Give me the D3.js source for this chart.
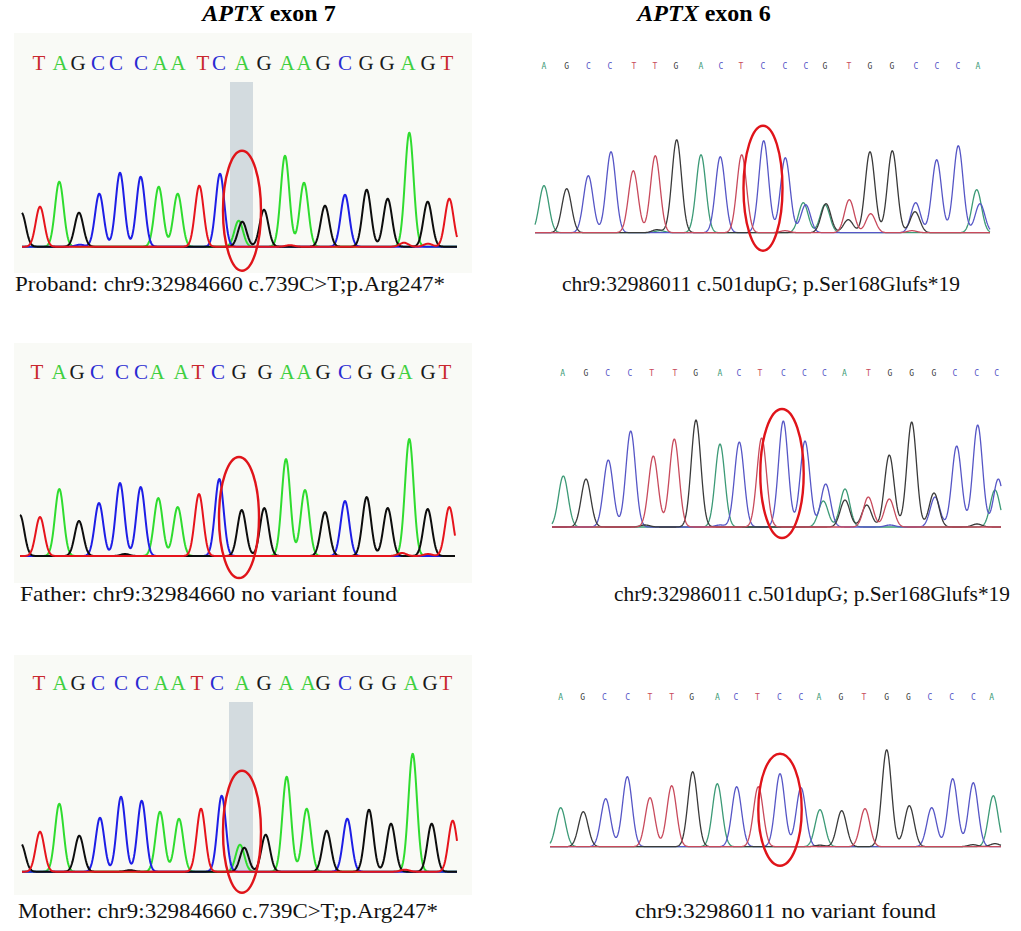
<!DOCTYPE html>
<html>
<head>
<meta charset="utf-8">
<title>APTX Sanger sequencing</title>
<style>
  body { margin: 0; background: #fff; }
  svg { display: block; font-family: "Liberation Serif", "Times New Roman", serif; }
</style>
</head>
<body>
<div id="chart"></div>
<script src="https://d3js.org/d3.v7.min.js"></script>
<script>

// peaks: [base, scan position, signal height]
const probandExon7Peaks = [
  ["G",21.5,34],["T",40,40],["A",59.3,65],["G",79,34],["C",99.3,53],["C",120,74],["C",140.7,70],
  ["A",158.7,60],["A",177.7,53],["T",199.3,61],["C",220,73],["A",238.7,26],["G",242.3,25],
  ["G",264,37],["A",285,91],["A",304,64],["G",325,41],["C",345,52],["G",366.7,57],["G",387.7,48],
  ["A",409.3,114],["G",427.7,45],["T",449.3,48],
  ["C",80,2],["T",404,4],["T",428,3],["T",290,1.5]
];
const fatherExon7Peaks = [
  ["G",20,41],["T",40,39],["A",59.3,67],["G",79,35],["C",99,53],["C",120,73],["C",140.7,69],
  ["A",158.3,58],["A",177.7,49],["T",199,62],["C",219.3,77],["G",241.7,46],["G",264.3,48],
  ["A",286,97],["A",305,66],["G",325,44],["C",345,55],["G",366.7,59],["G",387.7,48],
  ["A",409.3,117],["G",427.7,47],["T",449.3,49],
  ["G",125,2],["T",402,3],["T",428,2]
];
const motherExon7Peaks = [
  ["G",21,28],["T",40,40],["A",59.3,68],["G",79.3,36],["C",100,54],["C",121,75],["C",141.7,71],
  ["A",160,60],["A",179,53],["T",201,63],["C",221.7,76],["A",240,27],["G",244.3,24],
  ["G",265.7,37],["A",286.7,95],["A",306.7,63],["G",326.7,41],["C",347.3,53],["G",369,62],
  ["G",391,48],["A",412.7,118],["G",431.7,48],["T",452.7,51],
  ["T",405,2],["G",130,1.5]
];
const probandExon6Peaks = [
  ["A",24,47],["G",46.7,44],["C",68.3,57],["C",91,81],["T",113.3,62],["T",135.3,77],["G",156.7,93],
  ["A",181,78],["C",200.3,76],["T",221.7,78],["C",243.7,92],["C",265.3,75],["A",283.3,30],
  ["C",285.7,28],["G",306,29],["A",305,28],["T",329.3,33],["G",328.3,13],["G",350,81],
  ["T",350.7,19],["G",372.3,82],["C",395.7,30],["G",395,21],["C",416.7,73],["C",438.3,87],
  ["A",456.7,43],["C",460,29],
  ["G",137,3],["A",140,2],["T",265,2],["T",392,2]
];
const fatherExon6Peaks = [
  ["A",43.3,51],["G",66,48],["C",88.3,67],["C",110.7,96],["T",133.3,71],["T",154.3,88],["G",176,107],
  ["A",200,83],["C",219.3,85],["T",241.7,89],["C",263.3,106],["C",285,86],["C",305.7,43],
  ["A",303.3,26],["A",325,38],["G",325,27],["T",348.3,30],["G",346.7,22],["T",369.3,28],
  ["G",369.3,72],["G",391.7,105],["G",414,34],["C",415,30],["C",436.7,81],["C",457.7,102],
  ["C",478.3,48],["A",475,37],
  ["G",125,2],["C",200,2],["C",370,2],["G",457,3]
];
const motherExon6Peaks = [
  ["A",40.7,39],["G",63.3,35],["C",85.7,48],["C",107.3,70],["T",130,49],["T",151.7,61],["G",172.7,75],
  ["A",197.3,63],["C",216.7,60],["T",238.3,60],["C",260,73],["C",281,59],["A",300,37],
  ["G",321.7,36],["T",345,38],["G",366.7,97],["G",389.3,41],["C",411.7,39],["C",432.7,68],
  ["C",453.3,64],["A",473.3,51],
  ["G",300,1.5],["G",453,2],["G",475,3]
];

// base calls and their scan positions
const probandExon7Bases = "TAGCCCAATCAGAAGCGGAGT".split("");
const probandExon7Calls = [39,60,78,98,116,141,160,178,203,219,242,264,287,304,323,345,366,387,408,428,447];
const fatherExon7Bases = "TAGCCCAATCGGAAGCGGAGT".split("");
const fatherExon7Calls = [37,59,77,97,122,141,157,181,198,218,239,265,287,304,323,345,365,388,405,428,445];
const motherExon7Bases = "TAGCCCAATCAGAAGCGGAGT".split("");
const motherExon7Calls = [39,60,78,98,121,142,161,178,197,217,242,264,286,308,323,345,366,389,411,430,446];
const probandExon6Bases = "AGCCTTGACTCCCGTGGCCCA".split("");
const probandExon6Calls = [24,46.7,68.3,90,114,135,156,181,201,221,243,265,286,305,329,350,372,396,417,438,458];
const fatherExon6Bases = "AGCCTTGACTCCCATGGGCCC".split("");
const fatherExon6Calls = [42.7,66,87.7,110,131.7,155,175.7,200,219,240,263.3,284.3,304.3,324.3,348.3,370,391.7,414,435,456.7,476.7];
const motherExon6Bases = "AGCCTTGACTCCAGTGGCCCA".split("");
const motherExon6Calls = [40.7,62.7,84.3,107.7,130,151.7,171.7,197.3,216,237.3,259.3,281,299,321,344,366.7,388.3,410,431.7,453.3,471.7];

// variant position (scan) marked by the ellipse
const variantScan = [242, 239, 242, 243, 262, 260];

const captions = [
  "Proband: chr9:32984660 c.739C>T;p.Arg247*",
  "Father: chr9:32984660 no variant found",
  "Mother: chr9:32984660 c.739C>T;p.Arg247*",
  "chr9:32986011 c.501dupG; p.Ser168Glufs*19",
  "chr9:32986011 c.501dupG; p.Ser168Glufs*19",
  "chr9:32986011 no variant found"
];

const width = 1021, height = 931;

const svg = d3.select("#chart")
  .append("svg")
    .attr("width", width)
    .attr("height", height);

// colours: bright for the exon 7 traces, muted for the exon 6 traces
const brightColor = d3.scaleOrdinal().domain(["A","C","G","T"]).range(["#2fdc2f","#1e1ee6","#0d0d0d","#e6141c"]);
const brightLetter = d3.scaleOrdinal().domain(["A","C","G","T"]).range(["#3fcf3f","#2a2ad2","#1a1a1a","#c9282e"]);
const mutedColor = d3.scaleOrdinal().domain(["A","C","G","T"]).range(["#3c9a76","#5656c6","#3a3a3a","#c84a5c"]);

// panel layout (cap = x, baseline y, text width)
const panels = [
  {peaks: probandExon7Peaks, bases: probandExon7Bases, calls: probandExon7Calls, ox: 0,   base: 246.7, letterY: 70,  big: true,
   span: [22,457], bg: [14,33,458,240], shade: [230,253,82], ell: [96,24,19], cap: [15,291,430]},
  {peaks: fatherExon7Peaks, bases: fatherExon7Bases, calls: fatherExon7Calls, ox: 0,   base: 556,   letterY: 379, big: true,
   span: [20,455], bg: [14,343,458,240], shade: null, ell: [99,22,20], cap: [20,601,377]},
  {peaks: motherExon7Peaks, bases: motherExon7Bases, calls: motherExon7Calls, ox: 0,   base: 871.7, letterY: 690, big: true,
   span: [22,457], bg: [14,655,458,240], shade: [229,253,702], ell: [101,21,19], cap: [18,918,420]},
  {peaks: probandExon6Peaks, bases: probandExon6Bases, calls: probandExon6Calls, ox: 520, base: 232.7, letterY: 69,  big: false,
   span: [15,470], bg: null, shade: null, ell: [107,18,19.5], cap: [562,291,398]},
  {peaks: fatherExon6Peaks, bases: fatherExon6Bases, calls: fatherExon6Calls, ox: 520, base: 527,   letterY: 376, big: false,
   span: [32,481], bg: null, shade: null, ell: [118,11,21.7], cap: [614,601,396]},
  {peaks: motherExon6Peaks, bases: motherExon6Bases, calls: motherExon6Calls, ox: 520, base: 846.7, letterY: 700, big: false,
   span: [30,481], bg: null, shade: null, ell: [93,19,21.7], cap: [635,918,301]}
];

panels.forEach((p, i) => {
  const g = svg.append("g");
  const x = d3.scaleLinear().domain([0, 470]).range([p.ox, p.ox + 470]);
  const y = d3.scaleLinear().domain([0, 130]).range([p.base, p.base - 130]);
  const sigma = p.big ? 4.3 : 4.8;

  if (p.bg) {
    g.append("rect")
      .attr("x", p.bg[0]).attr("y", p.bg[1])
      .attr("width", p.bg[2]).attr("height", p.bg[3])
      .attr("fill", "#f9faf6");
  }

  if (p.shade) {
    g.append("rect")
      .attr("x", x(p.shade[0]))
      .attr("y", p.shade[2])
      .attr("width", x(p.shade[1]) - x(p.shade[0]))
      .attr("height", y(0) - p.shade[2])
      .attr("fill", "#d3dbdf");
  }

  // called bases
  g.selectAll("text.base")
    .data(p.bases)
    .join("text")
      .attr("class", "base")
      .attr("x", (d, j) => x(p.calls[j]))
      .attr("y", p.letterY)
      .attr("text-anchor", "middle")
      .style("font-family", p.big ? "'Liberation Serif', serif" : "'DejaVu Sans Mono', monospace")
      .style("font-size", p.big ? "21px" : "8px")
      .attr("fill", d => p.big ? brightLetter(d) : mutedColor(d))
      .text(d => d);

  // traces: each channel is the sum of its peaks
  const scans = d3.range(p.span[0], p.span[1] + 0.01, 0.5);
  const order = ["A","C","G","T"];
  order.forEach(ch => {
    const mine = p.peaks.filter(d => d[0] === ch);
    const pts = scans.map(s => [s, d3.sum(mine, d => d[2] * Math.exp(-((s - d[1]) ** 2) / (2 * sigma * sigma)))]);
    g.append("path")
      .datum(pts)
      .attr("fill", "none")
      .attr("stroke", p.big ? brightColor(ch) : mutedColor(ch))
      .attr("stroke-width", p.big ? 2 : 1.3)
      .attr("stroke-linejoin", "round")
      .attr("d", d3.line().x(d => x(d[0])).y(d => y(d[1])));
  });

  // red ellipse round the variant
  const top = p.base - p.ell[0], bottom = p.base + p.ell[1];
  g.append("ellipse")
    .attr("cx", x(variantScan[i]))
    .attr("cy", (top + bottom) / 2)
    .attr("rx", p.ell[2])
    .attr("ry", (bottom - top) / 2)
    .attr("fill", "none")
    .attr("stroke", "#e0141a")
    .attr("stroke-width", 2.4);

  g.append("text")
    .attr("x", p.cap[0])
    .attr("y", p.cap[1])
    .attr("textLength", p.cap[2])
    .attr("lengthAdjust", "spacingAndGlyphs")
    .style("font-size", "22px")
    .attr("fill", "#111")
    .text(captions[i]);
});

// column titles
const titles = [["APTX", " exon 7", 269], ["APTX", " exon 6", 704]];
titles.forEach(t => {
  const tx = svg.append("text")
    .attr("x", t[2])
    .attr("y", 21)
    .attr("text-anchor", "middle")
    .style("font-size", "24px")
    .style("font-weight", "bold")
    .attr("fill", "#000");
  tx.append("tspan").style("font-style", "italic").text(t[0]);
  tx.append("tspan").text(t[1]);
});

</script>
</body>
</html>
